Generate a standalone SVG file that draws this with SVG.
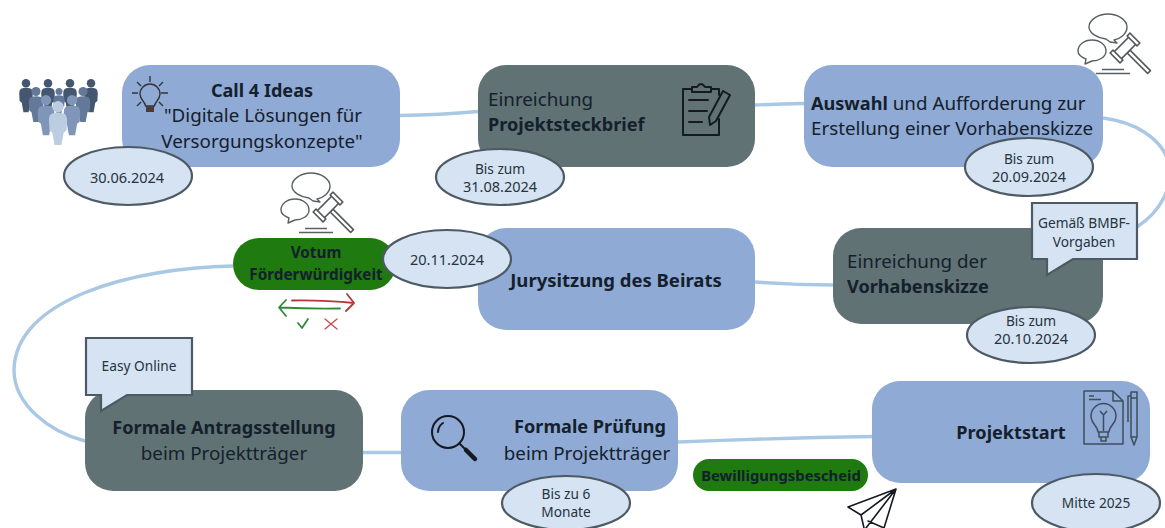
<svg xmlns="http://www.w3.org/2000/svg" width="1165" height="528" viewBox="0 0 1165 528">
<style>
text{font-family:"Noto Sans","Open Sans","Liberation Sans",sans-serif;fill:#14202c}
.m{text-anchor:middle}
.t{font-size:18.800px}
.b{font-weight:700;font-size:18.100px}
.s{font-size:13.700px;fill:#263340}
.d{font-size:14.500px;fill:#263340}
.v{font-weight:700;font-size:15.300px}
.blue{fill:#8faad4}
.dark{fill:#607274}
.green{fill:#1f7a10}
.pill{fill:#d5e3f2;stroke:#4d5a64;stroke-width:2.2}
.con{fill:none;stroke:#a9c8e4;stroke-width:3.4}
.ico{fill:none;stroke:#141a20;stroke-width:2;stroke-linejoin:round;stroke-linecap:round}
.gr{fill:none;stroke:#5a5f63;stroke-width:1.4;stroke-linejoin:round}
</style>
<defs>
<g id="person"><circle cx="0" cy="5" r="5"/><path d="M-6 11.500Q0 9 6 11.500Q8 13 8 17L7.500 26L5 28L3 39H-3L-5 28L-7.500 26L-8 17Q-8 13-6 11.500Z"/></g>
<g id="gavel">
<path class="gr" d="M311 173c10 0 19 6 19 13s-7 12-13 13l3 3-7-1-4-3c-9-1-17-6-17-12 0-7 9-13 19-13Z"/>
<path class="gr" d="M295 199c8 0 14 5 14 11s-7 10-14 10l-7 3 1-5c-5-2-8-5-8-8 0-6 6-11 14-11Z"/>
<g transform="translate(328 207) rotate(-45)" fill="#fff" stroke="#55595c" stroke-width="1.600" stroke-linejoin="round">
<rect x="-2" y="5" width="4" height="29"/>
<rect x="-11" y="-5" width="22" height="10"/>
<rect x="-14" y="-7" width="4" height="14"/>
<rect x="10" y="-7" width="4" height="14"/>
</g>
<path class="gr" stroke-width="1.800" d="M299 232.500H333M305 228.500H327"/>
</g>
</defs>

<g id="connectors">
<path class="con" d="M400 115.500Q440 115 478 111.500"/>
<path class="con" d="M755 105Q780 104 804 103.500"/>
<path class="con" d="M1103 118C1135 122 1160 138 1168 160C1176 185 1160 212 1137 227"/>
<path class="con" d="M833 285Q795 285 755 282"/>
<path class="con" d="M233 266C130 268 15 300 14 370C14 405 50 432 85 441"/>
<path class="con" d="M363 452.500H401"/>
<path class="con" d="M678 442Q780 438 872 436.500"/>
</g>

<g id="people">
<g fill="#45566f">
<use href="#person" transform="translate(26 79) scale(.85)"/><use href="#person" transform="translate(48 79) scale(.85)"/><use href="#person" transform="translate(70 79) scale(.85)"/><use href="#person" transform="translate(91 79) scale(.85)"/></g>
<g fill="#64799a"><use href="#person" transform="translate(36 87) scale(.9)"/><use href="#person" transform="translate(83 87) scale(.9)"/><use href="#person" transform="translate(59 88) scale(.7)"/></g>
<g fill="#7f96b9"><use href="#person" transform="translate(46 95) scale(1.03)"/><use href="#person" transform="translate(72 95) scale(1.03)"/></g>
<use href="#person" fill="#bccde2" transform="translate(58 101) scale(1.13)"/>
</g>

<g id="node-call">
<rect class="blue" x="122" y="65" width="278" height="102" rx="28"/>
<path class="gr" style="stroke:#30353a" d="M145.500 106C145.500 102 140 100 140 94A10 10 0 0 1 160 94C160 100 154.500 102 154.500 106ZM150 76V82M132 93H138M161 93H168M137 82L141 86M163 82L159 86M137 106L141 102M163 106L159 102"/>
<rect x="146" y="106" width="8" height="6" fill="#4a3a38"/>
<text class="b m" x="262" y="97">Call 4 Ideas</text>
<text class="t m" x="263" y="122">"Digitale Lösungen für</text>
<text class="t m" x="262" y="148">Versorgungskonzepte"</text>
</g>
<g id="date-call"><ellipse class="pill" cx="128" cy="176" rx="64" ry="29"/><text class="d m" x="127" y="183">30.06.2024</text></g>

<g id="node-steckbrief">
<rect class="dark" x="478" y="65" width="277" height="102" rx="28"/>
<text class="t" x="488" y="106">Einreichung</text>
<text class="b" x="488" y="131">Projektsteckbrief</text>
<g class="ico">
<path d="M692 89H683V135H719V119M711 89H719V95"/>
<path d="M692 92V87H697Q701 81 705 87H711V92Z"/>
<path d="M689 100H708M689 111H707M689 122H702"/>
<path d="M723 91L730 95L716 121L710 125L709 117Z"/>
</g>
</g>
<g id="date-steckbrief"><ellipse class="pill" cx="500" cy="177" rx="64" ry="28"/><text class="s m" x="500" y="174">Bis zum</text><text class="d m" x="500" y="192">31.08.2024</text></g>

<g id="node-auswahl">
<rect class="blue" x="804" y="65" width="299" height="102" rx="28"/>
<text class="t" x="811" y="110"><tspan class="b">Auswahl</tspan> und Aufforderung zur</text>
<text class="t" x="811" y="135">Erstellung einer Vorhabenskizze</text>
</g>
<use id="gavel-top" href="#gavel" x="797" y="-159"/>
<g id="date-auswahl"><ellipse class="pill" cx="1029" cy="167" rx="64" ry="29"/><text class="s m" x="1029" y="164">Bis zum</text><text class="d m" x="1029" y="182">20.09.2024</text></g>

<g id="node-skizze">
<rect class="dark" x="833" y="228" width="270" height="96" rx="28"/>
<text class="t" x="847" y="268">Einreichung der</text>
<text class="b" x="847" y="293">Vorhabenskizze</text>
</g>
<g id="callout-bmbf">
<path class="pill" d="M1032 203H1137V259H1073L1047 275V259H1032Z"/>
<text class="s m" x="1084" y="228">Gemäß BMBF-</text><text class="s m" x="1084" y="247">Vorgaben</text>
</g>
<g id="date-skizze"><ellipse class="pill" cx="1031" cy="335" rx="64" ry="28"/><text class="s m" x="1031" y="326">Bis zum</text><text class="d m" x="1031" y="344">20.10.2024</text></g>

<g id="node-jury">
<rect class="blue" x="478" y="228" width="277" height="102" rx="28"/>
<text class="b m" style="font-size:18.500px" x="616" y="287">Jurysitzung des Beirats</text>
</g>
<g id="node-votum">
<rect class="green" x="233" y="238" width="163" height="52" rx="26"/>
<text class="v m" x="316" y="258">Votum</text>
<text class="v m" x="316" y="280">Förderwürdigkeit</text>
</g>
<use id="gavel-votum" href="#gavel"/>
<g id="date-votum"><ellipse class="pill" cx="447" cy="259" rx="64" ry="29"/><text class="d m" x="447" y="265">20.11.2024</text></g>
<g id="vote-arrows" fill="none" stroke-width="1.800" stroke-linecap="round" stroke-linejoin="round">
<path stroke="#b8363a" d="M292 300.500Q325 300 354 303M347 294L354 303L346 311"/>
<path stroke="#2f8a36" d="M340 308.500Q310 309 280 307.500M286 300L279 307.500L286 316"/>
<path stroke="#2f8a36" d="M298 323L302 328L308 319"/>
<path stroke="#c8474c" stroke-width="1.200" d="M325 319L337 329M337 319L325 329"/>
</g>

<g id="node-antrag">
<rect class="dark" x="85" y="390" width="278" height="101" rx="28"/>
<text class="b m" x="224" y="434">Formale Antragsstellung</text>
<text class="t m" x="224" y="460">beim Projektträger</text>
</g>
<g id="callout-easy">
<path class="pill" d="M86 338H192V395H127L101 411V395H86Z"/>
<text class="s m" x="139" y="371">Easy Online</text>
</g>

<g id="node-pruefung">
<rect class="blue" x="401" y="390" width="277" height="101" rx="28"/>
<g class="ico">
<circle cx="448" cy="432" r="16"/>
<path d="M438 432A11 11 0 0 1 443 423"/>
<path d="M460 444L466 450"/>
<path d="M466 450L475 459" style="stroke-width:4.500"/>
</g>
<text class="b m" x="590" y="433">Formale Prüfung</text>
<text class="t m" x="587" y="460">beim Projektträger</text>
</g>
<g id="date-pruefung"><ellipse class="pill" cx="566" cy="503" rx="64" ry="27"/><text class="s m" x="566" y="499">Bis zu 6</text><text class="s m" x="566" y="517">Monate</text></g>

<g id="node-bescheid">
<rect class="green" x="693" y="459" width="175" height="32" rx="16"/>
<text class="v m" style="font-size:14.800px" x="781" y="481">Bewilligungsbescheid</text>
</g>
<path id="plane" class="ico" stroke-width="1.600" style="stroke-width:1.600" d="M896 489L848 507L861 515L896 489L866 528M861 515L864 528M896 489L884 528M868 521L884 528"/>

<g id="node-start">
<rect class="blue" x="872" y="381" width="278" height="102" rx="28"/>
<text class="b m" x="1011" y="439">Projektstart</text>
<g class="gr" style="stroke:#3f4d5c;stroke-width:1.500">
<path d="M1084 391H1113L1123 401V444H1084ZM1113 391V401H1123"/>
<path d="M1089 396H1094M1089 399.500H1101"/>
<path d="M1098 432C1098 426 1091 424 1091 416A12 12 0 0 1 1116 416C1116 424 1109 426 1109 432ZM1099 432V437H1108V432M1101 437V441H1106V437"/>
<path d="M1103.500 431V414M1100 411L1103.500 415L1107 411"/>
<path d="M1131 392H1137V437L1134 445L1131 437ZM1131 398H1137M1131 437H1137M1131 396H1128V422"/>
</g>
</g>
<g id="date-start"><ellipse class="pill" cx="1096" cy="503" rx="64" ry="29"/><text class="s m" x="1096" y="508">Mitte 2025</text></g>
</svg>
